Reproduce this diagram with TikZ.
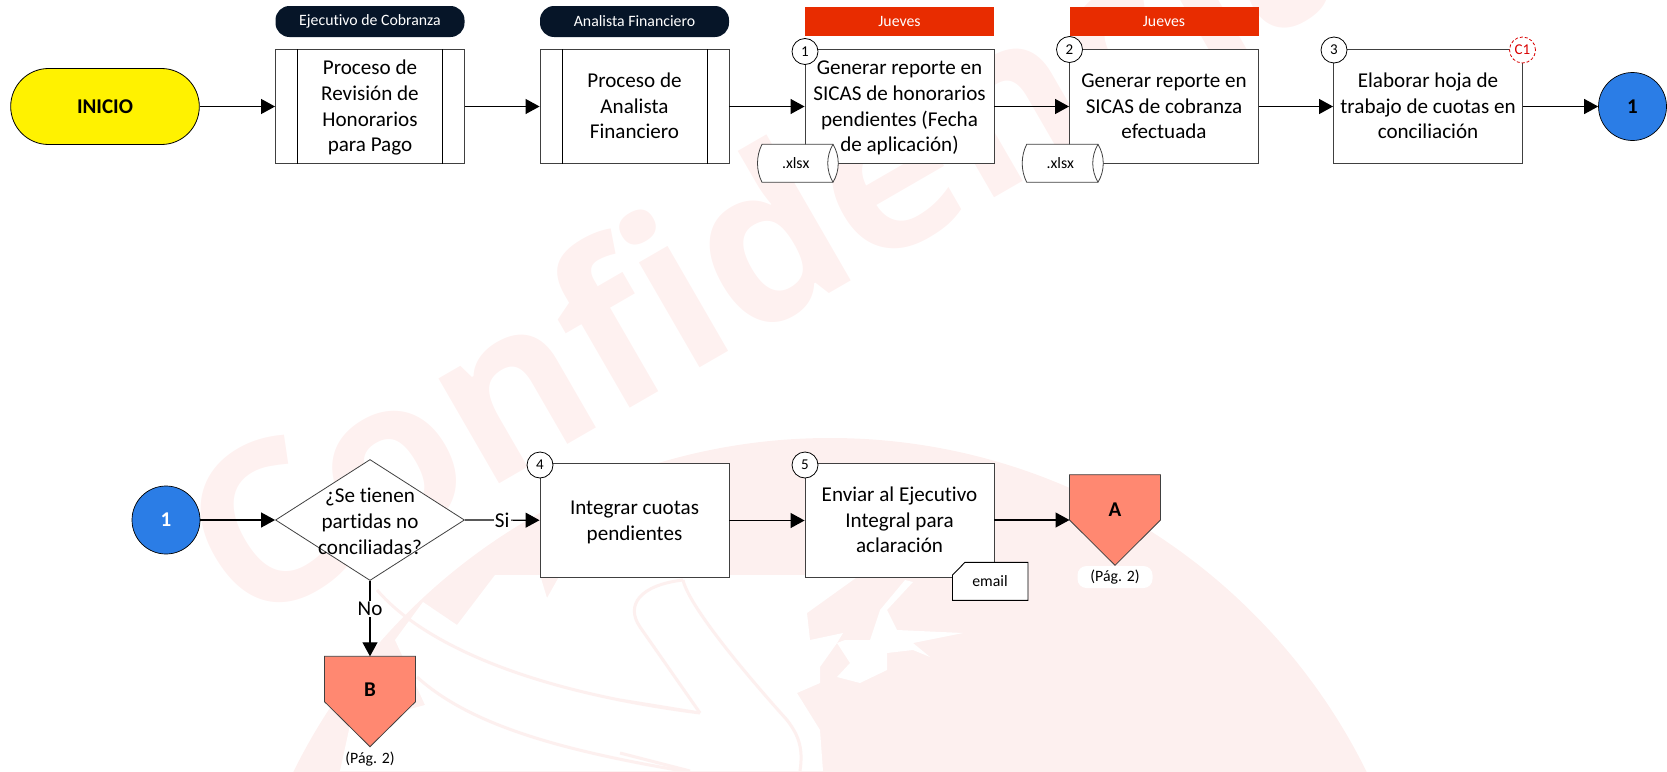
\documentclass[tikz,border=0pt]{standalone}
\usepackage{fontspec}
\setmainfont[Ligatures=NoCommon]{Carlito}
\newfontfamily\wmfont{Open Sans}
\usetikzlibrary{arrows.meta,calc,shapes.geometric}
\definecolor{wm}{HTML}{FEF1F0}
\definecolor{globe}{HTML}{FDF0EF}
\definecolor{navy}{HTML}{061528}
\definecolor{redbar}{HTML}{E82C00}
\definecolor{peach}{HTML}{FF8871}
\definecolor{bluec}{HTML}{2B7DE6}
\definecolor{edge}{HTML}{404040}
\newcommand{\fs}[1]{\fontsize{#1}{#1}\selectfont}
\newcommand{\tl}[1]{\raisebox{-1.5pt}[\height][\depth]{\begin{tabular}{@{}c@{}}#1\end{tabular}}}
\tikzset{
  x=1pt,y=-1pt,
  link/.style={draw=black,line width=1.2pt,-{Triangle[length=14pt,width=15pt]}},
  box/.style={draw=edge,fill=white,line width=0.9pt,minimum width=189pt,minimum height=113.5pt,align=center,inner sep=0pt,font=\fs{21.1}\linespread{1.22}\selectfont},
  badge/.style={circle,draw=black,fill=white,line width=0.8pt,minimum size=26pt,inner sep=0pt,font=\fs{15}},
  pill/.style={draw=none,fill=navy,rounded corners=14pt,minimum width=189pt,minimum height=31pt,inner sep=0pt,text=white,font=\fs{15.8}},
  bar/.style={fill=redbar,minimum width=189pt,minimum height=29pt,inner sep=0pt,text=white,font=\fs{15.8}},
  small/.style={font=\fs{15.8},inner sep=0pt},
  conn/.style={circle,draw=black,line width=0.7pt,minimum size=68pt,inner sep=0pt,fill=bluec,font=\bfseries\fs{21}},
  off/.style={draw=edge,fill=peach,line width=0.8pt},
  cyl/.style={draw=edge,fill=white,line width=0.8pt},
  lab/.style={fill=white,inner sep=1pt,font=\fs{21.1}},
  swoosh/.style={draw=globe,line width=3pt}
}
\begin{document}
\begin{tikzpicture}
\useasboundingbox (0,0) rectangle (1667,771);
\begin{scope}
\clip (0,0) rectangle (1667,771);
% background globe
\fill[globe] (830,1036) circle (598);
\fill[white] (340,771) -- (350,725) -- (425,705) -- (395,640) -- (423,602) -- (457,625) -- (495,575) -- (540,575) -- (547,598) -- (560,575) -- (860,575) -- (853,580) -- (807,613) -- (810,640) -- (843,633) -- (837,643) -- (820,667) -- (820,683) -- (797,693) -- (820,730) -- (823,771) -- cycle;
\fill[white] (913,582) -- (887,610) -- (897,630) -- (963,633) -- (913,643) -- (930,657) -- (913,650) -- (887,653) -- (887,670) -- (860,683) -- (837,677) -- (850,663) -- (837,643) -- (845,640) -- (870,640) -- (880,610) -- (905,580) -- cycle;
\draw[swoosh] (377,590) .. controls (420,640) and (520,690) .. (700,713) -- (620,700);
\draw[swoosh] (417,677) .. controls (470,725) and (560,750) .. (683,771);
\draw[swoosh] (700,713) -- (640,627) .. controls (625,605) and (640,585) .. (683,580);
\draw[swoosh] (683,580) .. controls (690,610) and (760,690) .. (787,720) .. controls (800,737) and (803,750) .. (800,771);
\draw[swoosh] (620,753) -- (690,771);
% watermark
\node[rotate=30,anchor=base west,inner sep=0pt,text=wm,font=\wmfont\bfseries\fs{222}] (wm) at (243,632) {Confidencial};
\end{scope}
% top row
\node[pill] (p1) at (370,21.5) {Ejecutivo de Cobranza};
\node[pill] (p2) at (634.5,21.5) {Analista Financiero};
\node[bar] (j1) at (899.5,21.5) {Jueves};
\node[bar] (j2) at (1164,21.5) {Jueves};
\node[draw=black,fill=yellow,line width=0.8pt,rounded corners=37.9pt,minimum width=188.6pt,minimum height=76pt,inner sep=0pt,font=\bfseries\fs{21}] (start) at (105,106.5) {INICIO};
\node[box] (a) at (370,106.5) {\tl{Proceso de\\Revisión de\\Honorarios\\para Pago}};
\draw[black,line width=0.9pt] ($(a.north west)+(22.5,0)$) -- ($(a.south west)+(22.5,0)$);
\draw[black,line width=0.9pt] ($(a.north east)+(-22.5,0)$) -- ($(a.south east)+(-22.5,0)$);
\node[box] (b) at (634.5,106.5) {\tl{Proceso de\\Analista\\Financiero}};
\draw[black,line width=0.9pt] ($(b.north west)+(22.5,0)$) -- ($(b.south west)+(22.5,0)$);
\draw[black,line width=0.9pt] ($(b.north east)+(-22.5,0)$) -- ($(b.south east)+(-22.5,0)$);
\node[box] (c) at (899.5,106.5) {\tl{Generar reporte en\\SICAS de honorarios\\pendientes (Fecha\\de aplicación)}};
\node[box] (d) at (1164,106.5) {\tl{Generar reporte en\\SICAS de cobranza\\efectuada}};
\node[box] (e) at (1428,106.5) {\tl{Elaborar hoja de\\trabajo de cuotas en\\conciliación}};
\node[conn,text=black] (c1a) at (1632.5,106.5) {1};
\node[badge] (b1) at (805,51.5) {1};
\node[badge] (b2) at (1069.5,49.5) {2};
\node[badge] (b3) at (1334,50) {3};
\node[badge,draw=red!85!black,densely dashed,text=red!85!black] (k1) at (1522.5,50) {C1};
% cylinders
\path[cyl] (762,144.3) -- (833,144.3) .. controls (840,156) and (840,170.5) .. (833,182.3) -- (762,182.3) .. controls (756,170.5) and (756,156) .. (762,144.3) -- cycle;
\draw[edge,line width=0.8pt] (833,144.3) .. controls (826,156) and (826,170.5) .. (833,182.3);
\node[small] (x1) at (795.7,163.5) {.xlsx};
\path[cyl] (1026.7,144.3) -- (1098,144.3) .. controls (1105,156) and (1105,170.5) .. (1098,182.3) -- (1026.7,182.3) .. controls (1020.7,170.5) and (1020.7,156) .. (1026.7,144.3) -- cycle;
\draw[edge,line width=0.8pt] (1098,144.3) .. controls (1091,156) and (1091,170.5) .. (1098,182.3);
\node[small] (x2) at (1060.3,163.5) {.xlsx};
\draw[link] (start) -- (a);
\draw[link] (a) -- (b);
\draw[link] (b) -- (c);
\draw[link] (c) -- (d);
\draw[link] (d) -- (e);
\draw[link] (e) -- (c1a);
% bottom row
\node[conn,text=white] (c1b) at (166,520) {1};
\node[diamond,draw=edge,fill=white,line width=0.8pt,aspect=1.562,minimum width=189pt,minimum height=121pt,inner sep=0pt] (q) at (370,520) {};
\node[align=center,font=\fs{21.1}\linespread{1.22}\selectfont,inner sep=0pt] (qt) at (370,521.5) {¿Se tienen\\partidas no\\conciliadas?};
\node[box] (f) at (634.5,520.5) {\tl{Integrar cuotas\\pendientes}};
\node[box] (g) at (899.5,520.5) {\tl{Enviar al Ejecutivo\\Integral para\\aclaración}};
\node[badge] (b4) at (540,465) {4};
\node[badge] (b5) at (805,465) {5};
\path[draw=black,line width=0.9pt,fill=white] (965,562.3) -- (1028,562.3) -- (1028,600.3) -- (952.5,600.3) -- (952.5,575) -- cycle;
\node[small] (em) at (990,581.5) {email};
% off-page A
\path[off] (1069.5,474.7) -- (1160.5,474.7) -- (1160.5,520) -- (1115,565.3) -- (1069.5,520) -- cycle;
\coordinate (aIn) at (1069.5,520);
\node[font=\bfseries\fs{21},inner sep=0pt] (at) at (1115,510) {A};
\node[fill=white,rounded corners=9pt,minimum width=75pt,minimum height=22pt,inner sep=0pt,font=\fs{15.8}] (apg) at (1115,577) {(Pág. 2)};
% off-page B
\path[off] (324.5,656.3) -- (415.5,656.3) -- (415.5,701.7) -- (370,746.7) -- (324.5,701.7) -- cycle;
\coordinate (bIn) at (370,656.3);
\node[font=\bfseries\fs{21},inner sep=0pt] (bt) at (370,690) {B};
\node[fill=white,rounded corners=9pt,minimum width=50pt,minimum height=20pt,inner sep=0pt,font=\fs{15.8}] (bpg) at (370,759) {(Pág. 2)};
\draw[link] (c1b) -- (q);
\draw[link] (q.east) -- node[lab,pos=.5] (si) {Si} (f);
\draw[link] (f) -- (g);
\draw[link] (g.east |- aIn) -- (aIn);
\draw[link] (q.south) -- node[lab,pos=.37,inner xsep=3pt] (no) {No} (bIn);
\end{tikzpicture}
\end{document}
